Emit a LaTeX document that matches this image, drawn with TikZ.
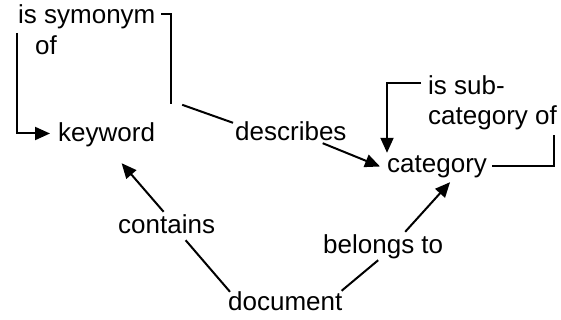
\documentclass[tikz,border=0pt]{standalone}
\usepackage{fontspec}
\setmainfont{Liberation Sans}
\usetikzlibrary{arrows.meta}
\tikzset{
  concept/.style={inner sep=0pt, text height=18pt, text depth=5pt, anchor=base west, font=\fontsize{26}{31}\selectfont},
  rel/.style={concept},
  rellines/.style={inner sep=0pt, anchor=north west, align=left, font=\fontsize{26}{31}\selectfont},
  link/.style={line width=2pt},
  linkto/.style={link, -{Triangle[length=15pt,width=13pt]}},
}
\begin{document}
\begin{tikzpicture}[x=1pt,y=-1pt]
    \useasboundingbox (0,0) rectangle (561,320);
    % concepts
    \node[concept] (keyword) at (58,142) {keyword};
    \node[concept] (category) at (387,173) {category};
    \node[concept] (document) at (228,310) {document};

    % relation labels
    \node[rellines] (synonym) at (18,4) {is symonym\\\hspace{17pt}of};
    \node[rel] (describes) at (235,141) {describes};
    \node[rellines, font=\fontsize{26}{30}\selectfont] (subcat) at (428,75) {is sub-\\category of};
    \node[rel] (contains) at (118,233) {contains};
    \node[rel] (belongs) at (323,253) {belongs to};

    % is symonym of
    \draw[link] ([shift={(16,-20)}]keyword.north east) |- ([shift={(5,10)}]synonym.north east);
    \draw[linkto] ([shift={(-1,29)}]synonym.north west) |- ([shift={(-8,-2)}]keyword.west);

    % describes
    \draw[link] ([shift={(27,-19)}]keyword.north east) -- ([shift={(-2,0)}]describes.north west);
    \draw[linkto] ([shift={(-24,-3)}]describes.south east) -- ([shift={(-7,0)}]category.west);

    % is sub-category of
    \draw[link] ([shift={(5,0)}]category.east) -| ([shift={(-3,5)}]subcat.south east);
    \draw[linkto] ([shift={(-7,8)}]subcat.north west) -| ([shift={(0,-2)}]category.north west);

    % contains
    \draw[link] ([shift={(2,0)}]document.north west) -- ([shift={(19,2)}]contains.south);
    \draw[linkto] ([shift={(-3,-3)}]contains.north) -- ([shift={(15,16)}]keyword.south);

    % belongs to
    \draw[link] ([shift={(-1,-1)}]document.north east) -- ([shift={(-5,2)}]belongs.south);
    \draw[linkto] ([shift={(22,-3)}]belongs.north) -- ([shift={(13,4)}]category.south);
\end{tikzpicture}
\end{document}
